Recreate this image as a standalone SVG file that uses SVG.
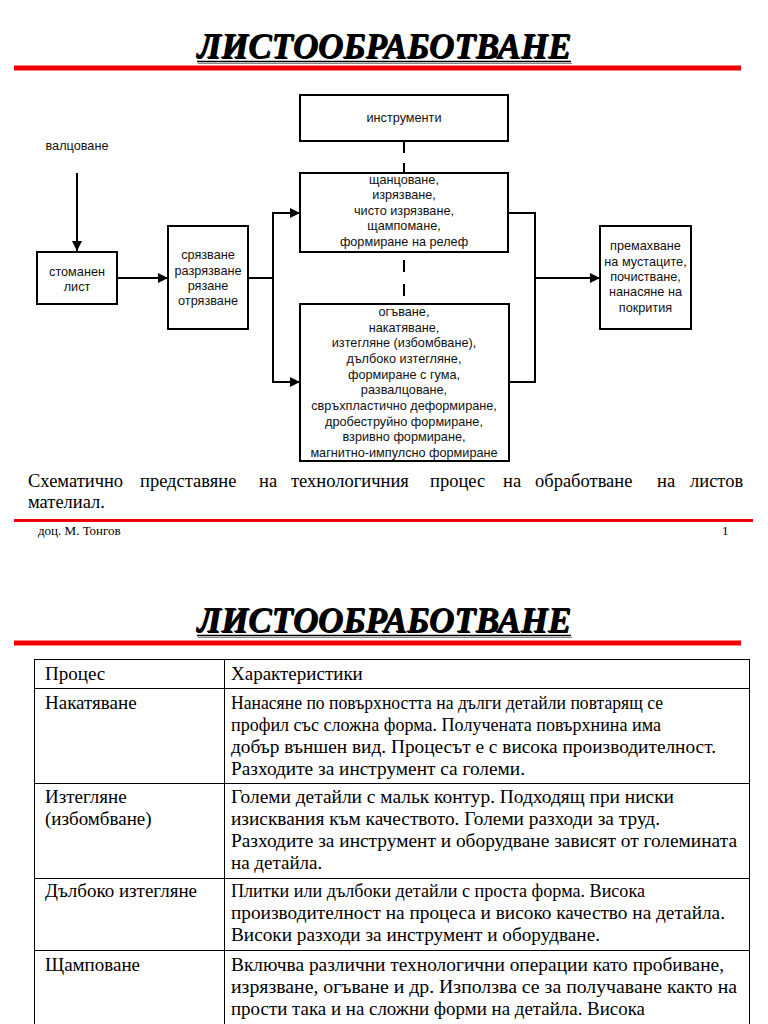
<svg xmlns="http://www.w3.org/2000/svg" width="768" height="1024" viewBox="0 0 768 1024">
<defs>
<marker id="arr" viewBox="0 0 10 10" refX="10" refY="5" markerWidth="5" markerHeight="5" markerUnits="strokeWidth" orient="auto">
<path d="M0,0 L10,5 L0,10 z" fill="#000"/>
</marker>
<style>
.box{fill:#fff;stroke:#000;stroke-width:2}
.bt{font-family:"Liberation Sans",Arial,sans-serif;font-size:12.7px;fill:#111;text-anchor:middle}
.con{fill:none;stroke:#000;stroke-width:2}
.title{font-family:"Liberation Serif","Times New Roman",serif;font-size:36px;font-weight:bold;font-style:italic;fill:#000;text-anchor:middle}
.red{stroke:#f00000;fill:none}
.cap{font-family:"Liberation Serif","Times New Roman",serif;font-size:18.5px;fill:#000}
.tt{font-family:"Liberation Serif","Times New Roman",serif;font-size:19px;fill:#000}
.grid{stroke:#000;stroke-width:1;fill:none}
.foot{font-family:"Liberation Serif","Times New Roman",serif;font-size:13px;fill:#000}
</style>
</defs>
<rect width="768" height="1024" fill="#fff"/>

<!-- page 1 header -->
<g id="title1">
<text class="title" x="384" y="58" textLength="374" lengthAdjust="spacingAndGlyphs" fill="#999" transform="translate(1,1)">ЛИСТООБРАБОТВАНЕ</text>
<text class="title" x="384" y="58" textLength="374" lengthAdjust="spacingAndGlyphs">ЛИСТООБРАБОТВАНЕ</text>
<line x1="197" y1="61.5" x2="571" y2="61.5" stroke="#000" stroke-width="1.5"/>
<line x1="198" y1="63.5" x2="572" y2="63.5" stroke="#888" stroke-width="1"/>
</g>
<line class="red" x1="14" y1="68" x2="741" y2="68" stroke-width="5"/>

<!-- connectors -->
<g id="connectors">
<line class="con" x1="77" y1="173" x2="77" y2="251" marker-end="url(#arr)"/>
<line class="con" x1="117" y1="278" x2="168" y2="278" marker-end="url(#arr)"/>
<polyline class="con" points="248,278 273,278"/>
<line class="con" x1="273" y1="212" x2="273" y2="383"/>
<line class="con" x1="273" y1="213" x2="300" y2="213" marker-end="url(#arr)"/>
<line class="con" x1="273" y1="382" x2="300" y2="382" marker-end="url(#arr)"/>
<line class="con" x1="508" y1="213" x2="535" y2="213"/>
<line class="con" x1="509" y1="382" x2="535" y2="382"/>
<line class="con" x1="535" y1="212" x2="535" y2="383"/>
<line class="con" x1="535" y1="278" x2="600" y2="278" marker-end="url(#arr)"/>
<line class="con" x1="404" y1="141" x2="404" y2="173" stroke-width="3" stroke-dasharray="12 10"/>
<line class="con" x1="404" y1="252" x2="404" y2="304" stroke-width="3" stroke-dasharray="12 12" stroke-dashoffset="16"/>
</g>

<g id="valcovane">
<text class="bt" x="77" y="150">валцоване</text>
</g>
<g id="stomanen">
<rect class="box" x="37" y="252" width="80" height="52"/>
<text class="bt" x="77" y="276">стоманен</text>
<text class="bt" x="77" y="291">лист</text>
</g>
<g id="sriazvane">
<rect class="box" x="168" y="226" width="80" height="103"/>
<text class="bt" x="208" y="259">срязване</text>
<text class="bt" x="208" y="275">разрязване</text>
<text class="bt" x="208" y="290">рязане</text>
<text class="bt" x="208" y="305">отрязване</text>
</g>
<g id="instrumenti">
<rect class="box" x="300" y="95" width="208" height="46"/>
<text class="bt" x="404" y="122">инструменти</text>
</g>
<g id="shtancovane">
<rect class="box" x="300" y="173" width="208" height="79"/>
<text class="bt" x="404" y="184">щанцоване,</text>
<text class="bt" x="404" y="199">изрязване,</text>
<text class="bt" x="404" y="215">чисто изрязване,</text>
<text class="bt" x="404" y="230">щампомане,</text>
<text class="bt" x="404" y="246">формиране на релеф</text>
</g>
<g id="ogavane">
<rect class="box" x="300" y="304" width="209" height="157"/>
<text class="bt" x="404" y="316">огъване,</text>
<text class="bt" x="404" y="332">накатяване,</text>
<text class="bt" x="404" y="347">изтегляне (избомбване),</text>
<text class="bt" x="404" y="363">дълбоко изтегляне,</text>
<text class="bt" x="404" y="379">формиране с гума,</text>
<text class="bt" x="404" y="394">развалцоване,</text>
<text class="bt" x="404" y="410">свръхпластично деформиране,</text>
<text class="bt" x="404" y="426">дробеструйно формиране,</text>
<text class="bt" x="404" y="441">взривно формиране,</text>
<text class="bt" x="404" y="457">магнитно-импулсно формиране</text>
</g>
<g id="premahvane">
<rect class="box" x="600" y="226" width="91" height="103"/>
<text class="bt" x="645.5" y="250">премахване</text>
<text class="bt" x="645.5" y="266">на мустаците,</text>
<text class="bt" x="645.5" y="281">почистване,</text>
<text class="bt" x="645.5" y="296">нанасяне на</text>
<text class="bt" x="645.5" y="312">покрития</text>
</g>

<!-- caption -->
<text class="cap" y="487"><tspan x="28">Схематично</tspan><tspan x="140">представяне</tspan><tspan x="259">на</tspan><tspan x="291">технологичния</tspan><tspan x="430">процес</tspan><tspan x="503">на</tspan><tspan x="535">обработване</tspan><tspan x="657">на</tspan><tspan x="690">листов</tspan></text>
<text class="cap" x="28" y="508">мателиал.</text>

<line class="red" x1="14" y1="520.5" x2="753" y2="520.5" stroke-width="3"/>
<text class="foot" x="38" y="535">доц. М. Тонгов</text>
<text class="foot" x="722" y="535">1</text>

<!-- page 2 -->
<g id="title2">
<text class="title" x="384" y="632" textLength="374" lengthAdjust="spacingAndGlyphs" fill="#999" transform="translate(1,1)">ЛИСТООБРАБОТВАНЕ</text>
<text class="title" x="384" y="632" textLength="374" lengthAdjust="spacingAndGlyphs">ЛИСТООБРАБОТВАНЕ</text>
<line x1="197" y1="635.5" x2="571" y2="635.5" stroke="#000" stroke-width="1.5"/>
<line x1="198" y1="637.5" x2="572" y2="637.5" stroke="#888" stroke-width="1"/>
</g>
<line class="red" x1="14" y1="643" x2="741" y2="643" stroke-width="5"/>

<g id="table">
<rect class="grid" x="34.5" y="659.5" width="715" height="400"/>
<line class="grid" x1="224.5" y1="659.5" x2="224.5" y2="1030"/>
<line class="grid" x1="34.5" y1="688.5" x2="749.5" y2="688.5"/>
<line class="grid" x1="34.5" y1="783.5" x2="749.5" y2="783.5"/>
<line class="grid" x1="34.5" y1="878.5" x2="749.5" y2="878.5"/>
<line class="grid" x1="34.5" y1="950.5" x2="749.5" y2="950.5"/>

<text class="tt" x="45" y="680">Процес</text>
<text class="tt" x="231" y="680">Характеристики</text>

<text class="tt" x="45" y="709">Накатяване</text>
<text class="tt" x="231" y="709" textLength="432" lengthAdjust="spacingAndGlyphs">Нанасяне по повърхността на дълги детайли повтарящ се</text>
<text class="tt" x="231" y="731" textLength="430" lengthAdjust="spacingAndGlyphs">профил със сложна форма. Получената повърхнина има</text>
<text class="tt" x="231" y="753" textLength="485" lengthAdjust="spacingAndGlyphs">добър външен вид. Процесът е с висока производителност.</text>
<text class="tt" x="231" y="775" textLength="294" lengthAdjust="spacingAndGlyphs">Разходите за инструмент са големи.</text>

<text class="tt" x="45" y="803">Изтегляне</text>
<text class="tt" x="45" y="825">(избомбване)</text>
<text class="tt" x="231" y="803" textLength="443" lengthAdjust="spacingAndGlyphs">Големи детайли с мальк контур. Подходящ при ниски</text>
<text class="tt" x="231" y="825" textLength="429" lengthAdjust="spacingAndGlyphs">изисквания към качеството. Големи разходи за труд.</text>
<text class="tt" x="231" y="847" textLength="506" lengthAdjust="spacingAndGlyphs">Разходите за инструмент и оборудване зависят от големината</text>
<text class="tt" x="231" y="869">на детайла.</text>

<text class="tt" x="45" y="897">Дълбоко изтегляне</text>
<text class="tt" x="231" y="897" textLength="414" lengthAdjust="spacingAndGlyphs">Плитки или дълбоки детайли с проста форма. Висока</text>
<text class="tt" x="231" y="919" textLength="494" lengthAdjust="spacingAndGlyphs">производителност на процеса и високо качество на детайла.</text>
<text class="tt" x="231" y="941" textLength="369" lengthAdjust="spacingAndGlyphs">Високи разходи за инструмент и оборудване.</text>

<text class="tt" x="45" y="971">Щамповане</text>
<text class="tt" x="231" y="971" textLength="493" lengthAdjust="spacingAndGlyphs">Включва различни технологични операции като пробиване,</text>
<text class="tt" x="231" y="993" textLength="506" lengthAdjust="spacingAndGlyphs">изрязване, огъване и др. Използва се за получаване както на</text>
<text class="tt" x="231" y="1015" textLength="414" lengthAdjust="spacingAndGlyphs">прости така и на сложни форми на детайла. Висока</text>
</g>
</svg>
